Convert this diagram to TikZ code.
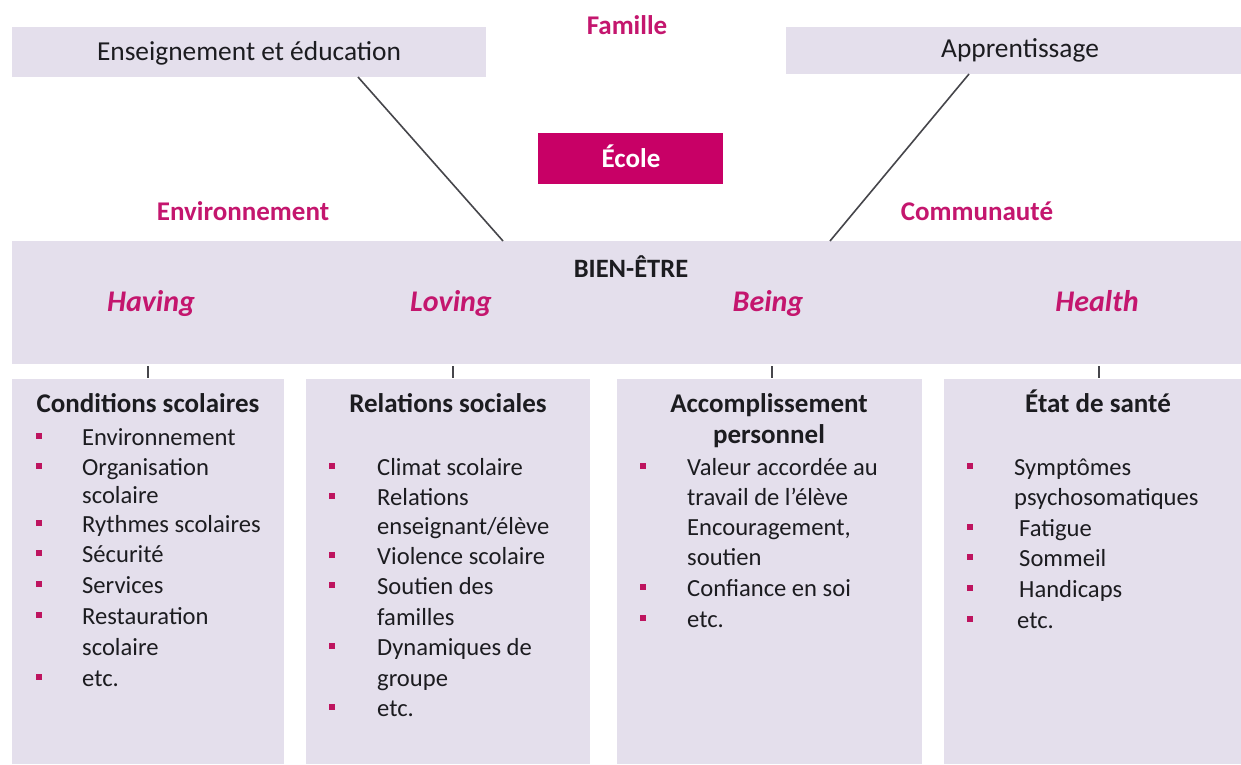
\documentclass[tikz,border=0pt]{standalone}
\usepackage{fontspec}
\setmainfont{Carlito}
\definecolor{lav}{RGB}{228,223,236}
\definecolor{mag}{RGB}{200,0,102}
\definecolor{magtxt}{RGB}{196,22,110}
\definecolor{blc}{RGB}{190,20,95}
\definecolor{dk}{RGB}{28,28,32}
\definecolor{ln}{RGB}{70,70,75}
\begin{document}
\begin{tikzpicture}[x=1pt,y=-1pt,
  box/.style={fill=lav, draw=none, inner sep=0pt, anchor=north west},
  txt/.style={inner sep=0pt, anchor=mid, yshift=-4.5pt, text=dk, font=\fontsize{24}{29}\selectfont},
  toptxt/.style={txt, font=\fontsize{27.4}{32}\selectfont},
  ttl/.style={txt, font=\bfseries\fontsize{27}{32}\selectfont},
  mlab/.style={txt, text=magtxt, font=\bfseries\fontsize{27}{32}\selectfont},
  dim/.style={txt, text=magtxt, font=\bfseries\itshape\fontsize{30}{35}\selectfont},
  itm/.style={txt, anchor=mid west, font=\fontsize{24.6}{29}\selectfont},
  blt/.style={fill=blc, draw=none, minimum size=5.5pt, inner sep=0pt},
  conn/.style={draw=ln, line width=1.6pt},
  tick/.style={draw=ln, line width=1.3pt}]
\useasboundingbox (0,0) rectangle (1241,764);
\fill[white] (0,0) rectangle (1241,764);

% top boxes
\node[box, minimum width=474pt, minimum height=50pt] (ens) at (12,27) {};
\node[toptxt] (enst) at (249,54) {Enseignement et éducation};
\node[box, minimum width=455pt, minimum height=47pt] (app) at (786,27) {};
\node[toptxt] (appt) at (1020,51) {Apprentissage};

\node[mlab] (fam) at (627,28) {Famille};
\node[fill=mag, minimum width=185pt, minimum height=51pt, inner sep=0pt, anchor=north west] (ecole) at (538,133) {};
\node[txt, text=white, font=\bfseries\fontsize{27}{32}\selectfont] (ecolet) at (631,161) {École};
\node[mlab] (env) at (243,214) {Environnement};
\node[mlab] (com) at (977,214) {Communauté};

% bien-etre
\node[box, minimum width=1229pt, minimum height=123pt] (be) at (12,241) {};
\node[txt, font=\bfseries\fontsize{26.5}{31}\selectfont] (bet) at (631,271) {BIEN-ÊTRE};
\node[dim] (hav) at (151,305) {Having};
\node[dim] (lov) at (451,305) {Loving};
\node[dim] (bei) at (768,305) {Being};
\node[dim] (hea) at (1097,305) {Health};

% connectors
\coordinate (c1a) at (358,77);
\coordinate (c1b) at (503,241);
\coordinate (c2a) at (969,74);
\coordinate (c2b) at (830,241);
\draw[conn] (c1a) -- (c1b);
\draw[conn] (c2a) -- (c2b);

\foreach \x/\n in {148/t1,453/t2,772/t3,1099/t4}{
  \coordinate (\n a) at (\x,366);
  \coordinate (\n b) at (\x,378);
  \draw[tick] (\n a) -- (\n b);
}

% bottom boxes
\node[box, minimum width=272pt, minimum height=385pt] (b1) at (12,379) {};
\node[box, minimum width=284pt, minimum height=385pt] (b2) at (306,379) {};
\node[box, minimum width=305pt, minimum height=385pt] (b3) at (617,379) {};
\node[box, minimum width=297pt, minimum height=385pt] (b4) at (944,379) {};

% box 1
\node[ttl] (h1) at (148,406) {Conditions scolaires};
\node[blt] (p11) at (39,436) {}; \node[itm] (i11) at (82,439) {Environnement};
\node[blt] (p12) at (39,466) {}; \node[itm] (i12) at (82,469) {Organisation};
\node[itm] (i13) at (82,497) {scolaire};
\node[blt] (p14) at (39,523) {}; \node[itm] (i14) at (82,526) {Rythmes scolaires};
\node[blt] (p15) at (39,553) {}; \node[itm] (i15) at (82,556) {Sécurité};
\node[blt] (p16) at (39,584) {}; \node[itm] (i16) at (82,587) {Services};
\node[blt] (p17) at (39,615) {}; \node[itm] (i17) at (82,618) {Restauration};
\node[itm] (i18) at (82,649) {scolaire};
\node[blt] (p19) at (39,677) {}; \node[itm] (i19) at (82,680) {etc.};

% box 2
\node[ttl] (h2) at (448,406) {Relations sociales};
\node[blt] (p21) at (332,466) {}; \node[itm] (i21) at (377,469) {Climat scolaire};
\node[blt] (p22) at (332,496) {}; \node[itm] (i22) at (377,499) {Relations};
\node[itm] (i23) at (377,528) {enseignant/élève};
\node[blt] (p24) at (332,555) {}; \node[itm] (i24) at (377,558) {Violence scolaire};
\node[blt] (p25) at (332,585) {}; \node[itm] (i25) at (377,588) {Soutien des};
\node[itm] (i26) at (377,619) {familles};
\node[blt] (p27) at (332,646) {}; \node[itm] (i27) at (377,649) {Dynamiques de};
\node[itm] (i28) at (377,680) {groupe};
\node[blt] (p29) at (332,707) {}; \node[itm] (i29) at (377,710) {etc.};

% box 3
\node[ttl] (h3a) at (769,406) {Accomplissement};
\node[ttl] (h3b) at (769,437) {personnel};
\node[blt] (p31) at (643,466) {}; \node[itm] (i31) at (687,469) {Valeur accordée au};
\node[itm] (i32) at (687,499) {travail de l’élève};
\node[itm] (i33) at (687,529) {Encouragement,};
\node[itm] (i34) at (687,559) {soutien};
\node[blt] (p35) at (643,587) {}; \node[itm] (i35) at (687,590) {Confiance en soi};
\node[blt] (p36) at (643,618) {}; \node[itm] (i36) at (687,621) {etc.};

% box 4
\node[ttl] (h4) at (1098,406) {État de santé};
\node[blt] (p41) at (970,466) {}; \node[itm] (i41) at (1014,469) {Symptômes};
\node[itm] (i42) at (1014,499) {psychosomatiques};
\node[blt] (p43) at (970,527) {}; \node[itm] (i43) at (1019,530) {Fatigue};
\node[blt] (p44) at (970,557) {}; \node[itm] (i44) at (1019,560) {Sommeil};
\node[blt] (p45) at (970,588) {}; \node[itm] (i45) at (1019,591) {Handicaps};
\node[blt] (p46) at (970,619) {}; \node[itm] (i46) at (1017,622) {etc.};
\end{tikzpicture}
\end{document}
